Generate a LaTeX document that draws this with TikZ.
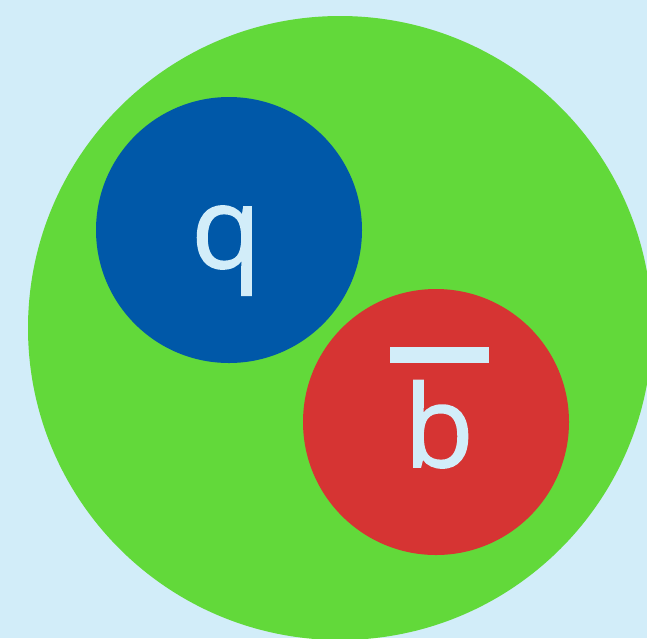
\documentclass[tikz,border=0pt]{standalone}
\usepackage{fontspec}
\setmainfont{Open Sans}
\newfontfamily\flavourfont{Open Sans}[RawFeature={embolden=1.3}]
\usepackage{tikz}
\definecolor{mesonbg}{HTML}{D2EDF9}
\definecolor{mesongreen}{HTML}{62D93A}
\definecolor{quarkblue}{HTML}{0058A8}
\definecolor{quarkred}{HTML}{D63433}
\newcommand{\Antib}{\vbox{\hrule height 16pt\kern 17pt\hbox to 99pt{\hss b\hss}}}

\begin{document}
\begin{tikzpicture}[
  x=1pt,
  y=-1pt,
  meson/.style={circle, fill=mesongreen, minimum size=624pt, inner sep=0pt},
  quark/.style={circle, minimum size=266pt, inner sep=0pt},
  flavour/.style={text=mesonbg, inner sep=0pt, anchor=base, font=\flavourfont\fontsize{114}{114}\selectfont}
]
\fill[mesonbg] (0,0) rectangle (647,638);
\useasboundingbox (0,0) rectangle (647,638);
\clip (0,0) rectangle (647,638);

\node[meson] (hadron) at (340,328) {};
\node[quark, fill=quarkblue] (quark) at (229,230) {};
\node[quark, fill=quarkred] (antiquark) at (436,422) {};

\node[flavour] (qlabel) at (226,268) {q};
\node[flavour] (blabel) at (439,467) {\Antib};
\end{tikzpicture}
\end{document}
